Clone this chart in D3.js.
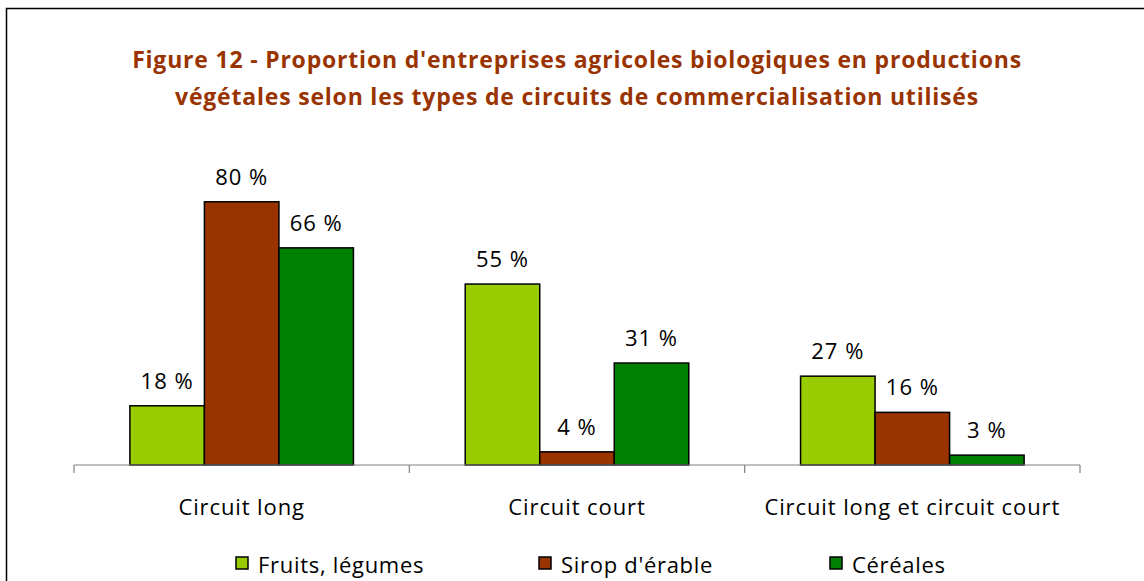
<!DOCTYPE html>
<html>
<head>
<meta charset="utf-8">
<script src="https://cdn.jsdelivr.net/npm/d3@7"></script>
<style>
  body { margin: 0; background: #fff; }
  svg { display: block; }
</style>
</head>
<body>
<div id="chart"></div>
<script>
// ========================
// DATA
// ========================
const titleLines = [
    "Figure 12 - Proportion d'entreprises agricoles biologiques en productions",
    "végétales selon les types de circuits de commercialisation utilisés"
];
const categories = ["Circuit long", "Circuit court", "Circuit long et circuit court"];
const seriesNames = ["Fruits, légumes", "Sirop d'érable", "Céréales"];
const fruitsValues = [18, 55, 27];
const siropValues = [80, 4, 16];
const cerealesValues = [66, 31, 3];
const seriesColors = ["#99cc00", "#993300", "#008000"];

// ========================
// LAYOUT
// ========================
const width = 1144, height = 581;
const axisLeft = 74, axisRight = 1080, axisY = 465, topY = 136;
const font = "'Open Sans', 'Noto Sans', sans-serif";

const svg = d3.select("#chart").append("svg")
    .attr("width", width)
    .attr("height", height);

// chart frame (runs off the right and bottom of the picture)
svg.append("rect")
    .attr("x", 6.5).attr("y", 8.5)
    .attr("width", 1200).attr("height", 700)
    .attr("fill", "#fff")
    .attr("stroke", "#000")
    .attr("stroke-width", 1.5);

// title
svg.append("text")
    .attr("text-anchor", "middle")
    .attr("font-family", font)
    .attr("font-weight", "bold")
    .attr("font-size", "23px")
    .attr("letter-spacing", "0.8px")
    .attr("fill", "#993300")
    .selectAll("tspan")
    .data(titleLines)
    .enter()
    .append("tspan")
    .attr("x", 577)
    .attr("y", (d, i) => 68 + i * 37)
    .text(d => d);

// scales
const x0 = d3.scaleBand()
    .domain(categories)
    .range([axisLeft, axisRight])
    .paddingInner(0)
    .paddingOuter(0);

const x1 = d3.scaleBand()
    .domain(seriesNames)
    .range([0, x0.bandwidth()])
    .paddingInner(0)
    .paddingOuter(0.75);

const y = d3.scaleLinear()
    .domain([0, 100])
    .range([axisY, topY]);

const allValues = [fruitsValues, siropValues, cerealesValues];
const rows = [];
categories.forEach((cat, ci) => {
    seriesNames.forEach((s, si) => {
        rows.push({ cat, series: s, value: allValues[si][ci], color: seriesColors[si] });
    });
});

// bars
svg.append("g")
    .selectAll("rect")
    .data(rows)
    .enter()
    .append("rect")
    .attr("x", d => x0(d.cat) + x1(d.series))
    .attr("y", d => y(d.value))
    .attr("width", x1.bandwidth())
    .attr("height", d => y(0) - y(d.value))
    .attr("fill", d => d.color)
    .attr("stroke", "#000")
    .attr("stroke-width", 1.5);

// value labels
svg.append("g")
    .selectAll("text")
    .data(rows)
    .enter()
    .append("text")
    .attr("x", d => x0(d.cat) + x1(d.series) + x1.bandwidth() / 2)
    .attr("y", d => y(d.value) - 17)
    .attr("text-anchor", "middle")
    .attr("font-family", font)
    .attr("font-size", "22px")
    .attr("letter-spacing", "1px")
    .attr("fill", "#000")
    .text(d => `${d.value} %`);

// category axis
const axis = svg.append("g");
axis.append("line")
    .attr("x1", axisLeft).attr("x2", axisRight)
    .attr("y1", axisY).attr("y2", axisY)
    .attr("stroke", "#808080")
    .attr("stroke-width", 1.2);

const tickPositions = categories.map(c => x0(c)).concat([x0(categories[categories.length - 1]) + x0.bandwidth()]);
axis.selectAll(".tick")
    .data(tickPositions)
    .enter()
    .append("line")
    .attr("x1", d => d).attr("x2", d => d)
    .attr("y1", axisY).attr("y2", axisY + 8)
    .attr("stroke", "#808080")
    .attr("stroke-width", 1.2);

axis.selectAll(".cat")
    .data(categories)
    .enter()
    .append("text")
    .attr("x", d => x0(d) + x0.bandwidth() / 2)
    .attr("y", 515)
    .attr("text-anchor", "middle")
    .attr("font-family", font)
    .attr("font-size", "22px")
    .attr("letter-spacing", "0.9px")
    .attr("fill", "#000")
    .text(d => d);

// legend
const legendX = [236, 539, 830];
const legend = svg.append("g")
    .selectAll("g")
    .data(seriesNames)
    .enter()
    .append("g")
    .attr("transform", (d, i) => `translate(${legendX[i]}, 557)`);

legend.append("rect")
    .attr("width", 12).attr("height", 12)
    .attr("fill", (d, i) => seriesColors[i])
    .attr("stroke", "#000")
    .attr("stroke-width", 1.5);

legend.append("text")
    .attr("x", 22)
    .attr("y", 16)
    .attr("font-family", font)
    .attr("font-size", "22px")
    .attr("letter-spacing", "0.7px")
    .attr("fill", "#000")
    .text(d => d);
</script>
</body>
</html>
